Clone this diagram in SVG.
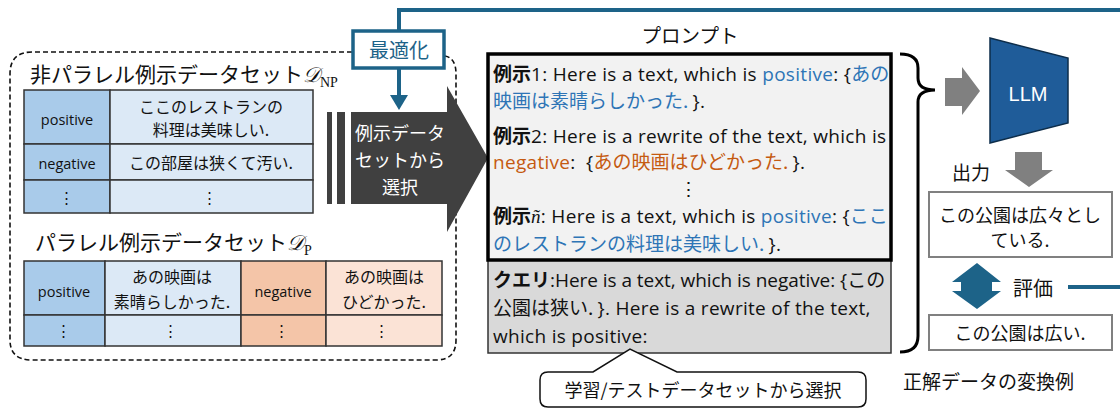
<svg xmlns="http://www.w3.org/2000/svg" width="1120" height="408" viewBox="0 0 1120 408">
<defs>
<style>
text{font-family:"Liberation Sans","Noto Sans CJK JP",sans-serif;fill:#111}
.jp{font-family:"Noto Sans CJK JP","Liberation Sans",sans-serif}
.os{font-family:"Open Sans","Noto Sans CJK JP",sans-serif}
.cell{stroke:#333;stroke-width:1.5}
.t14{font-size:14.5px}
.t16{font-size:16px}
.c{text-anchor:middle}
.pt{font-size:19px;letter-spacing:0.3px;font-family:"Open Sans","Noto Sans CJK JP",sans-serif}
.pj{font-family:"Noto Sans CJK JP",sans-serif;font-size:19px;letter-spacing:0}
.b{font-weight:bold}
.blue{fill:#2e75b6}
.org{fill:#c55a11}
.math{font-family:"Liberation Serif","DejaVu Serif",serif}
.teal{fill:#1d6388}
.w{fill:#fff}
</style>
</defs>

<!-- connectors: feedback loop -->
<g id="connectors">
<path d="M1068 287 H1123 V10 H399 V30" fill="none" stroke="#1d6388" stroke-width="4"/>
<path d="M399 68 V96" fill="none" stroke="#1d6388" stroke-width="4"/>
<polygon points="390,95 408,95 399,110" fill="#1d6388"/>
</g>

<!-- dashed container -->
<g id="datasets">
<path d="M352 52 H32 Q10 52 10 74 V340 Q10 360 32 360 H436 Q456 360 456 340 V74 Q456 58 445 56" fill="none" stroke="#111" stroke-width="1.6" stroke-dasharray="5,3"/>
<text class="jp" x="30" y="82" font-size="21">非パラレル例示データセット<tspan class="math" font-style="italic">𝒟</tspan><tspan class="math" font-size="14" dy="5">NP</tspan></text>

<g id="table-np">
<rect class="cell" x="24" y="90" width="86" height="54" fill="#a9cbea"/>
<rect class="cell" x="110" y="90" width="203" height="54" fill="#dce9f6"/>
<rect class="cell" x="24" y="144" width="86" height="36" fill="#a9cbea"/>
<rect class="cell" x="110" y="144" width="203" height="36" fill="#dce9f6"/>
<rect class="cell" x="24" y="180" width="86" height="33" fill="#a9cbea"/>
<rect class="cell" x="110" y="180" width="203" height="33" fill="#dce9f6"/>
<text class="t14 c os" x="67" y="125">positive</text>
<text class="t16 c jp" x="211" y="113">ここのレストランの</text>
<text class="t16 c jp" x="211" y="136">料理は美味しい.</text>
<text class="t14 c os" x="67" y="169">negative</text>
<text class="t16 c jp" x="211" y="169">この部屋は狭くて汚い.</text>
<text class="t14 c" x="66" y="203">⋮</text>
<text class="t14 c" x="209" y="203">⋮</text>
</g>

<text class="jp" x="35" y="250" font-size="21">パラレル例示データセット<tspan class="math" font-style="italic">𝒟</tspan><tspan class="math" font-size="14" dy="5">P</tspan></text>

<g id="table-p">
<rect class="cell" x="24" y="261" width="81" height="54" fill="#a9cbea"/>
<rect class="cell" x="105" y="261" width="136" height="54" fill="#dce9f6"/>
<rect class="cell" x="241" y="261" width="85" height="54" fill="#f4c5a8"/>
<rect class="cell" x="326" y="261" width="116" height="54" fill="#fbe3d6"/>
<rect class="cell" x="24" y="315" width="81" height="31" fill="#a9cbea"/>
<rect class="cell" x="105" y="315" width="136" height="31" fill="#dce9f6"/>
<rect class="cell" x="241" y="315" width="85" height="31" fill="#f4c5a8"/>
<rect class="cell" x="326" y="315" width="116" height="31" fill="#fbe3d6"/>
<text class="t14 c os" x="64" y="297">positive</text>
<text class="t16 c jp" x="172" y="283">あの映画は</text>
<text class="t16 c jp" x="172" y="308">素晴らしかった.</text>
<text class="t14 c os" x="283" y="297">negative</text>
<text class="t16 c jp" x="384" y="283">あの映画は</text>
<text class="t16 c jp" x="384" y="308">ひどかった.</text>
<text class="t14 c" x="63" y="336">⋮</text>
<text class="t14 c" x="170" y="336">⋮</text>
<text class="t14 c" x="281" y="336">⋮</text>
<text class="t14 c" x="381" y="336">⋮</text>
</g>
</g>

<!-- optimize box -->
<g id="optimize">
<rect x="353" y="31" width="91" height="37" fill="#fff" stroke="#1d6388" stroke-width="3.5"/>
<text class="jp c teal" x="399" y="58" font-size="20">最適化</text>
</g>

<!-- selection arrow -->
<g id="select-arrow">
<rect x="327" y="112" width="5" height="92" fill="#404040"/>
<rect x="337" y="112" width="8" height="92" fill="#404040"/>
<polygon points="351,112 447,112 447,86 488,158 447,232 447,204 351,204" fill="#404040"/>
<text class="jp c w" x="400" y="140" font-size="18">例示データ</text>
<text class="jp c w" x="400" y="167" font-size="18">セットから</text>
<text class="jp c w" x="400" y="194" font-size="18">選択</text>
</g>

<!-- prompt -->
<g id="prompt">
<text class="jp c" x="690" y="43" font-size="19.5">プロンプト</text>
<rect x="488" y="259" width="403" height="94" fill="#d9d9d9" stroke="#333" stroke-width="1.5"/>
<rect x="488" y="54" width="403" height="206" fill="#f2f2f2" stroke="#000" stroke-width="3.5"/>
<text class="pt" x="493" y="81"><tspan class="b pj">例示</tspan>1: Here is a text, which is <tspan class="blue">positive</tspan>: {<tspan class="blue pj">あの</tspan></text>
<text class="pt" x="493" y="108"><tspan class="blue pj">映画は素晴らしかった.&#160;</tspan>}.</text>
<text class="pt" x="493" y="143"><tspan class="b pj">例示</tspan>2: Here is a rewrite of the text, which is</text>
<text class="pt" x="493" y="169"><tspan class="org">negative</tspan>:&#160; {<tspan class="org pj">あの映画はひどかった.&#160;</tspan>}.</text>
<text class="pt c" x="689" y="196">⋮</text>
<text class="pt" x="493" y="223"><tspan class="b pj">例示</tspan><tspan class="math" font-style="italic">ñ</tspan>: Here is a text, which is <tspan class="blue">positive</tspan>: {<tspan class="blue pj">ここ</tspan></text>
<text class="pt" x="493" y="251"><tspan class="blue pj">のレストランの料理は美味しい.&#160;</tspan>}.</text>
<text class="pt" x="493" y="287" style="letter-spacing:-0.05px"><tspan class="b pj">クエリ</tspan>:Here is a text, which is negative: {<tspan class="pj">この</tspan></text>
<text class="pt" x="493" y="315"><tspan class="pj">公園は狭い.&#160;</tspan>}. Here is a rewrite of the text,</text>
<text class="pt" x="493" y="343">which is positive:</text>
</g>

<!-- callout -->
<g id="callout">
<path d="M548 372 H593 L630 349 L677 372 H858 Q866 372 866 380 V399 Q866 407 858 407 H548 Q540 407 540 399 V380 Q540 372 548 372 Z" fill="#fff" stroke="#111" stroke-width="1.5"/>
<text class="jp c" x="703" y="397" font-size="18">学習/テストデータセットから選択</text>
</g>

<!-- brace -->
<g id="brace">
<path d="M900 54 Q918 54 918 68 V78 Q918 90 935 90 Q918 90 918 102 V336 Q918 352 900 352" fill="none" stroke="#000" stroke-width="3"/>
</g>

<!-- arrow to LLM -->
<g id="arrow-llm">
<polygon points="945,78 962,78 962,67 980,91 962,115 962,106 945,106" fill="#808080"/>
</g>

<g id="llm">
<polygon points="990,38 1068,58 1068,123 990,143" fill="#1f5c99" stroke="#0d2d4a" stroke-width="1.5"/>
<text class="c w" x="1028" y="101" font-size="20">LLM</text>
</g>

<g id="output">
<text class="jp" x="952" y="180" font-size="19">出力</text>
<polygon points="1015,152 1042,152 1042,170 1053,170 1029,187 1005,170 1015,170" fill="#808080"/>
<rect x="929" y="192" width="183" height="65" fill="#fff" stroke="#808080" stroke-width="2"/>
<text class="jp c" x="1020" y="222" font-size="18">この公園は広々とし</text>
<text class="jp c" x="1020" y="247" font-size="18">ている.</text>
</g>

<g id="eval">
<polygon points="977,263 1001,282 992,282 992,291 1001,291 977,309 952,291 961,291 961,282 952,282" fill="#1d6388"/>
<text class="jp" x="1013" y="296" font-size="20">評価</text>
</g>

<g id="reference">
<rect x="929" y="315" width="183" height="35" fill="#fff" stroke="#808080" stroke-width="2"/>
<text class="jp c" x="1020" y="340" font-size="18">この公園は広い.</text>
<text class="jp" x="903" y="389" font-size="19">正解データの変換例</text>
</g>
</svg>
